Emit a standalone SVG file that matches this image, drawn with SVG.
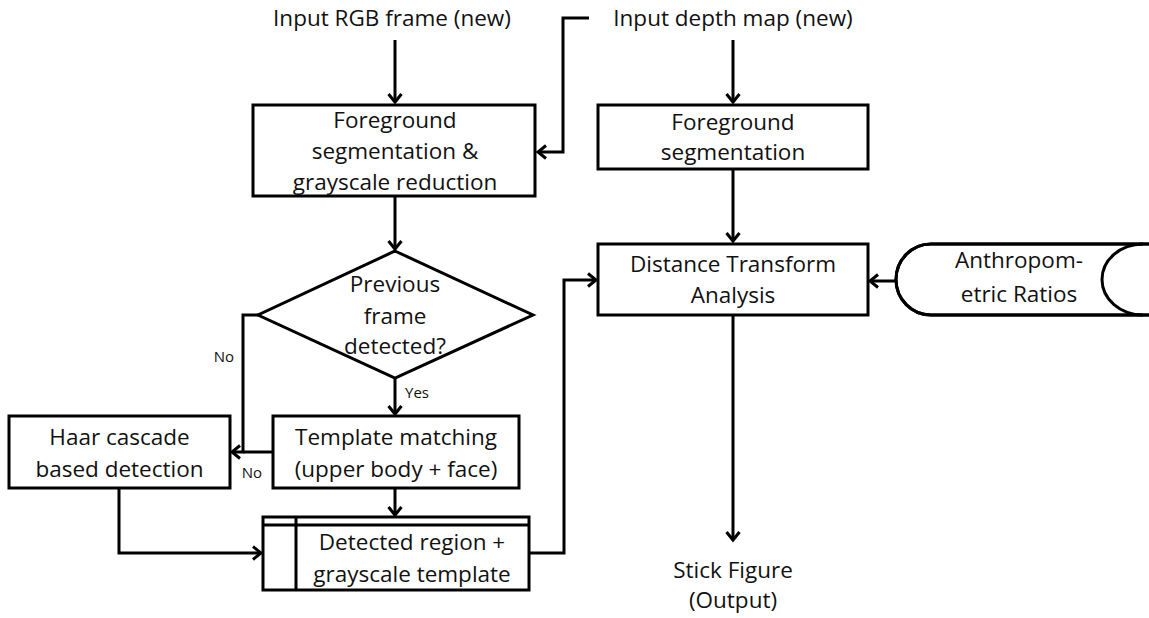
<svg xmlns="http://www.w3.org/2000/svg" width="1149" height="618" viewBox="0 0 1149 618">
  <style>
    .shape { fill: #ffffff; stroke: #000000; stroke-width: 3; }
    .conn { fill: none; stroke: #000000; stroke-width: 3; stroke-linejoin: miter; }
    .lbl { font-family: "Open Sans", Lato, "Liberation Sans", sans-serif; font-size: 22.5px; fill: #111111; text-anchor: middle; }
    .small { font-family: "Open Sans", Lato, "Liberation Sans", sans-serif; font-size: 15px; fill: #111111; text-anchor: middle; }
  </style>
  <defs>
    <marker id="arrow" markerUnits="userSpaceOnUse" markerWidth="20" markerHeight="20" viewBox="-12 -10 14 20" refX="0" refY="0" orient="auto">
      <path d="M -8 -6.5 L 0 0 L -8 6.5" fill="none" stroke="#000000" stroke-width="3" stroke-linejoin="miter"/>
    </marker>
  </defs>
  <rect width="1149" height="618" fill="#ffffff"/>

  <!-- connectors -->
  <g id="connectors">
    <path class="conn" d="M 395 40 L 395 102" marker-end="url(#arrow)"/>
    <path class="conn" d="M 589 18 L 563 18 L 563 152 L 538 152" marker-end="url(#arrow)"/>
    <path class="conn" d="M 733 40 L 733 102" marker-end="url(#arrow)"/>
    <path class="conn" d="M 395 196 L 395 249" marker-end="url(#arrow)"/>
    <path class="conn" d="M 733 169 L 733 241" marker-end="url(#arrow)"/>
    <path class="conn" d="M 258 315 L 243 315 L 243 452 L 232 452" marker-end="url(#arrow)"/>
    <path class="conn" d="M 273 452 L 243 452"/>
    <path class="conn" d="M 395 378 L 395 414" marker-end="url(#arrow)"/>
    <path class="conn" d="M 395 488 L 395 515" marker-end="url(#arrow)"/>
    <path class="conn" d="M 119 488 L 119 553 L 261 553" marker-end="url(#arrow)"/>
    <path class="conn" d="M 529 553 L 564 553 L 564 280 L 596 280" marker-end="url(#arrow)"/>
    <path class="conn" d="M 896 281 L 870 281" marker-end="url(#arrow)"/>
    <path class="conn" d="M 733 315 L 733 540" marker-end="url(#arrow)"/>
    <text class="small" x="224" y="362">No</text>
    <text class="small" x="252" y="478">No</text>
    <text class="small" x="417" y="398">Yes</text>
  </g>

  <g id="input-rgb">
    <text class="lbl" x="392" y="26">Input RGB frame (new)</text>
  </g>

  <g id="input-depth">
    <text class="lbl" x="733" y="26">Input depth map (new)</text>
  </g>

  <g id="fg-gray">
    <rect class="shape" x="253" y="105" width="282" height="91"/>
    <text class="lbl" x="395" y="128">Foreground</text>
    <text class="lbl" x="395" y="159">segmentation &amp;</text>
    <text class="lbl" x="395" y="190">grayscale reduction</text>
  </g>

  <g id="fg-depth">
    <rect class="shape" x="598" y="105" width="270" height="64"/>
    <text class="lbl" x="733" y="130">Foreground</text>
    <text class="lbl" x="733" y="160">segmentation</text>
  </g>

  <g id="prev-detected">
    <polygon class="shape" points="395,251 533,315 395,378 258,315"/>
    <text class="lbl" x="395" y="292">Previous</text>
    <text class="lbl" x="395" y="324">frame</text>
    <text class="lbl" x="395" y="354">detected?</text>
  </g>

  <g id="haar">
    <rect class="shape" x="9" y="416" width="221" height="72"/>
    <text class="lbl" x="119.5" y="445">Haar cascade</text>
    <text class="lbl" x="119.5" y="477">based detection</text>
  </g>

  <g id="template">
    <rect class="shape" x="273" y="416" width="246" height="72"/>
    <text class="lbl" x="396" y="445">Template matching</text>
    <text class="lbl" x="396" y="477">(upper body + face)</text>
  </g>

  <g id="detected-region">
    <rect class="shape" x="263" y="517" width="266" height="73"/>
    <line x1="263" y1="525" x2="529" y2="525" stroke="#000000" stroke-width="3"/>
    <line x1="296" y1="517" x2="296" y2="590" stroke="#000000" stroke-width="3"/>
    <text class="lbl" x="412" y="550">Detected region +</text>
    <text class="lbl" x="412" y="582">grayscale template</text>
  </g>

  <g id="distance-transform">
    <rect class="shape" x="598" y="244" width="270" height="71"/>
    <text class="lbl" x="733" y="272">Distance Transform</text>
    <text class="lbl" x="733" y="303">Analysis</text>
  </g>

  <g id="anthropometric">
    <path class="shape" d="M 931 244 L 1149 244 M 1149 315 L 931 315 A 35 35.5 0 0 1 931 244"/>
    <path class="conn" d="M 931 244 L 1149 244 M 1149 315 L 931 315 A 35 35.5 0 0 1 931 244"/>
    <path class="conn" d="M 1143 244 A 41 35.5 0 0 0 1143 315"/>
    <text class="lbl" x="1019" y="268">Anthropom-</text>
    <text class="lbl" x="1019" y="302">etric Ratios</text>
  </g>

  <g id="stick-figure">
    <text class="lbl" x="733" y="578">Stick Figure</text>
    <text class="lbl" x="733" y="608">(Output)</text>
  </g>
</svg>
